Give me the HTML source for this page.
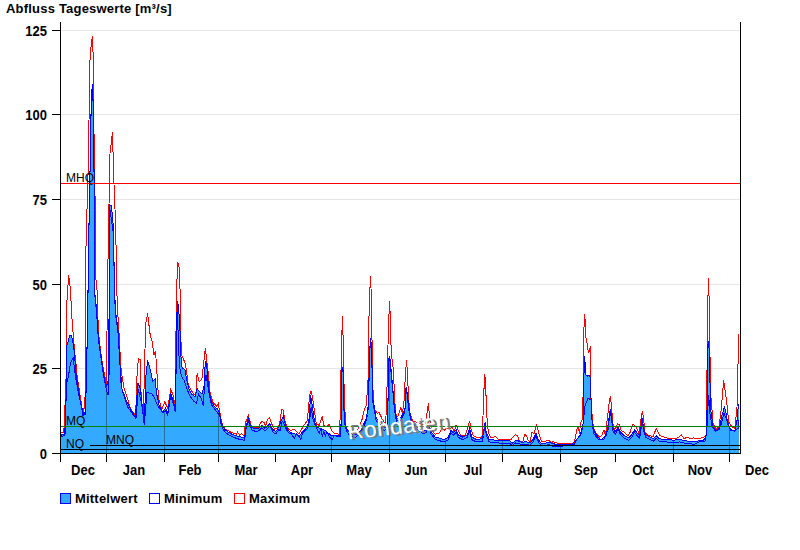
<!DOCTYPE html>
<html><head><meta charset="utf-8"><style>
html,body{margin:0;padding:0;background:#fff;width:800px;height:550px;overflow:hidden}
svg{display:block}
</style></head><body>
<svg width="800" height="550" viewBox="0 0 800 550">
<defs><clipPath id="plot"><rect x="61" y="22" width="679" height="431"/></clipPath>
<clipPath id="fillclip"><polygon points="61,453 61,434.5 63,435 65,434 65.6,418 66.5,380 67,345 70,335 71.4,335 73.7,346 75.2,362.6 76,373 80,400 83,415.5 85.3,412 86.4,380 87.9,300 88.6,243 89.5,200 91.3,97 92.4,84 93.5,110 94.2,190 94.6,291 96.5,309 98.3,336 101.3,358 103.5,373 105,382 106.5,386 108.5,380 109.5,260 110,205 111.5,206 113.6,230 114.4,291 116,315 118.2,331 119.7,358 120.4,373 121.2,386.4 126.4,401.4 134.6,416.3 135.5,416 137.9,382.6 140.4,389 142.8,412 144.5,417 146.1,372.7 147.7,360.5 150.2,369.5 152.6,381 155.1,379.3 156.7,394 159.2,405.5 162.5,412.6 165.5,408 167.7,412.6 170.7,393.2 173.7,402 175.2,409.6 176.2,360 177.2,300.7 178.7,306.7 179.1,315.7 180.1,332 180.8,354.5 182.1,368.2 184.9,369.6 186.9,380.5 189,388.7 191.7,394.1 195.1,396.8 197.1,388.7 199.2,391.4 201.9,394.1 204,386 205.3,361.4 206.7,365.5 208.7,388.7 211.5,402.3 215.6,407.8 217.6,409.1 219.7,413.2 220.7,420.8 223,426.7 225.9,430.5 231.9,434.2 237.9,436.4 242.4,437.2 244.6,437.9 246.1,426 248.3,417.8 249.8,423.7 252,427.5 255.8,429 258.8,428.2 261.8,425.2 264.7,428.2 267,426.7 270,423.7 272.2,428.2 273.7,430.5 276,431.2 279,426.7 281.2,420.8 283.4,416.3 285.7,425.2 287.9,430.5 292.4,433.4 296.1,434.2 299.1,436.4 301.3,433.4 305.8,428.2 308.8,422.3 310.6,395.4 312.5,407.3 314,417.8 315.5,425.2 317.8,427.5 321.5,429 325.2,430.5 330.5,435 335,435 339.4,435.7 340.8,434 341.3,410 341.6,372 342.4,366.6 343.4,372 343.8,405 344.8,422 346.4,428.4 350.2,433.5 355.3,434.8 360.4,431 363.3,425 366,419 367.5,412 368.8,400 369.2,360 370.5,337.6 371.8,350 372.3,385 373,400 374.5,408 375.8,417 380.4,424.5 384,428 386.3,427 387.8,420 388.2,380 388.6,360 389.7,355.8 390.6,364.5 392,380 393.4,395 394.2,405 396.4,418.6 400.9,417.8 403.9,411.8 405,408 405.4,390 406.6,387.2 407.2,394 409,408 411,418.6 412.8,423.7 418.8,428.2 423.3,431.2 426.3,429.7 428.5,420.8 430.7,431 435.2,437 440.5,438.5 444.2,439.5 448,437.5 450.9,430.5 453.2,432.7 456.1,429.7 458.4,435 462.9,437.2 467.3,435 469.6,428.2 471.8,437.2 476.3,439.4 482.3,438.7 483.5,433 484.5,425 485.3,422.5 486.2,432.7 488.3,436.8 489,439.4 495.7,440.2 499,440.5 502,441 506,440.5 510,441 512.5,443 515.5,440.5 518.5,441 522,442.5 526,441.5 530,443 533,439.5 536,433.5 538.5,440 541,443 546,443 549,442 552.5,443.9 560,444.3 574.1,444.3 576.4,440.2 579.3,435.7 581.6,432.7 583.3,422 583.8,380 584.5,356 585.3,366 585.8,375 587.6,376 589,375.4 590.5,378 591.2,405 592,420 592.8,428.2 595.8,434.2 601,440.2 604,437.2 606.2,435.7 608.5,422.3 610.3,408.8 611.5,416.3 613,428.2 615.2,432 618.2,426.7 620.4,432 624.1,435.7 628.6,437.9 631.6,435 634.6,429.7 636.8,432.7 639.8,435.7 642.1,417.8 643.6,428.2 645.8,435 653.3,438.7 656.2,435.7 659.2,438.7 663.7,439.4 666,439.4 673.4,440.2 679.4,439.4 686.1,440.9 694.3,441.7 703.3,440.2 705.8,438 706.8,425 707.3,390 707.8,345 708.4,341 709.2,350 709.8,370 710.3,400 710.9,411.7 713.1,426.6 716.1,431.1 719.1,429.6 722.1,414.7 724.3,407.2 725.8,411.7 728.1,425.1 731,429.6 734.8,431.1 737,420.7 738.5,404.2 739,404.2 739,453"/></clipPath>
</defs>
<line x1="62" y1="368.5" x2="740" y2="368.5" stroke="#e6e6e6" stroke-width="1" shape-rendering="crispEdges"/>
<line x1="62" y1="284.5" x2="740" y2="284.5" stroke="#e6e6e6" stroke-width="1" shape-rendering="crispEdges"/>
<line x1="62" y1="199.5" x2="740" y2="199.5" stroke="#e6e6e6" stroke-width="1" shape-rendering="crispEdges"/>
<line x1="62" y1="114.5" x2="740" y2="114.5" stroke="#e6e6e6" stroke-width="1" shape-rendering="crispEdges"/>
<line x1="62" y1="30.5" x2="740" y2="30.5" stroke="#e6e6e6" stroke-width="1" shape-rendering="crispEdges"/>
<g clip-path="url(#plot)" shape-rendering="crispEdges">
<polygon points="61,453 61,434.5 63,435 65,434 65.6,418 66.5,380 67,345 70,335 71.4,335 73.7,346 75.2,362.6 76,373 80,400 83,415.5 85.3,412 86.4,380 87.9,300 88.6,243 89.5,200 91.3,97 92.4,84 93.5,110 94.2,190 94.6,291 96.5,309 98.3,336 101.3,358 103.5,373 105,382 106.5,386 108.5,380 109.5,260 110,205 111.5,206 113.6,230 114.4,291 116,315 118.2,331 119.7,358 120.4,373 121.2,386.4 126.4,401.4 134.6,416.3 135.5,416 137.9,382.6 140.4,389 142.8,412 144.5,417 146.1,372.7 147.7,360.5 150.2,369.5 152.6,381 155.1,379.3 156.7,394 159.2,405.5 162.5,412.6 165.5,408 167.7,412.6 170.7,393.2 173.7,402 175.2,409.6 176.2,360 177.2,300.7 178.7,306.7 179.1,315.7 180.1,332 180.8,354.5 182.1,368.2 184.9,369.6 186.9,380.5 189,388.7 191.7,394.1 195.1,396.8 197.1,388.7 199.2,391.4 201.9,394.1 204,386 205.3,361.4 206.7,365.5 208.7,388.7 211.5,402.3 215.6,407.8 217.6,409.1 219.7,413.2 220.7,420.8 223,426.7 225.9,430.5 231.9,434.2 237.9,436.4 242.4,437.2 244.6,437.9 246.1,426 248.3,417.8 249.8,423.7 252,427.5 255.8,429 258.8,428.2 261.8,425.2 264.7,428.2 267,426.7 270,423.7 272.2,428.2 273.7,430.5 276,431.2 279,426.7 281.2,420.8 283.4,416.3 285.7,425.2 287.9,430.5 292.4,433.4 296.1,434.2 299.1,436.4 301.3,433.4 305.8,428.2 308.8,422.3 310.6,395.4 312.5,407.3 314,417.8 315.5,425.2 317.8,427.5 321.5,429 325.2,430.5 330.5,435 335,435 339.4,435.7 340.8,434 341.3,410 341.6,372 342.4,366.6 343.4,372 343.8,405 344.8,422 346.4,428.4 350.2,433.5 355.3,434.8 360.4,431 363.3,425 366,419 367.5,412 368.8,400 369.2,360 370.5,337.6 371.8,350 372.3,385 373,400 374.5,408 375.8,417 380.4,424.5 384,428 386.3,427 387.8,420 388.2,380 388.6,360 389.7,355.8 390.6,364.5 392,380 393.4,395 394.2,405 396.4,418.6 400.9,417.8 403.9,411.8 405,408 405.4,390 406.6,387.2 407.2,394 409,408 411,418.6 412.8,423.7 418.8,428.2 423.3,431.2 426.3,429.7 428.5,420.8 430.7,431 435.2,437 440.5,438.5 444.2,439.5 448,437.5 450.9,430.5 453.2,432.7 456.1,429.7 458.4,435 462.9,437.2 467.3,435 469.6,428.2 471.8,437.2 476.3,439.4 482.3,438.7 483.5,433 484.5,425 485.3,422.5 486.2,432.7 488.3,436.8 489,439.4 495.7,440.2 499,440.5 502,441 506,440.5 510,441 512.5,443 515.5,440.5 518.5,441 522,442.5 526,441.5 530,443 533,439.5 536,433.5 538.5,440 541,443 546,443 549,442 552.5,443.9 560,444.3 574.1,444.3 576.4,440.2 579.3,435.7 581.6,432.7 583.3,422 583.8,380 584.5,356 585.3,366 585.8,375 587.6,376 589,375.4 590.5,378 591.2,405 592,420 592.8,428.2 595.8,434.2 601,440.2 604,437.2 606.2,435.7 608.5,422.3 610.3,408.8 611.5,416.3 613,428.2 615.2,432 618.2,426.7 620.4,432 624.1,435.7 628.6,437.9 631.6,435 634.6,429.7 636.8,432.7 639.8,435.7 642.1,417.8 643.6,428.2 645.8,435 653.3,438.7 656.2,435.7 659.2,438.7 663.7,439.4 666,439.4 673.4,440.2 679.4,439.4 686.1,440.9 694.3,441.7 703.3,440.2 705.8,438 706.8,425 707.3,390 707.8,345 708.4,341 709.2,350 709.8,370 710.3,400 710.9,411.7 713.1,426.6 716.1,431.1 719.1,429.6 722.1,414.7 724.3,407.2 725.8,411.7 728.1,425.1 731,429.6 734.8,431.1 737,420.7 738.5,404.2 739,404.2 739,453" fill="#33aaff" stroke="none"/>
<g clip-path="url(#fillclip)">
<line x1="106.5" y1="22" x2="106.5" y2="453" stroke="#1f6ea6" stroke-width="1"/>
<line x1="164.5" y1="22" x2="164.5" y2="453" stroke="#1f6ea6" stroke-width="1"/>
<line x1="218.5" y1="22" x2="218.5" y2="453" stroke="#1f6ea6" stroke-width="1"/>
<line x1="331.5" y1="22" x2="331.5" y2="453" stroke="#1f6ea6" stroke-width="1"/>
<line x1="389.5" y1="22" x2="389.5" y2="453" stroke="#1f6ea6" stroke-width="1"/>
<line x1="445.5" y1="22" x2="445.5" y2="453" stroke="#1f6ea6" stroke-width="1"/>
<line x1="502.5" y1="22" x2="502.5" y2="453" stroke="#1f6ea6" stroke-width="1"/>
<line x1="560.5" y1="22" x2="560.5" y2="453" stroke="#1f6ea6" stroke-width="1"/>
<line x1="673.5" y1="22" x2="673.5" y2="453" stroke="#1f6ea6" stroke-width="1"/>
<line x1="729.5" y1="22" x2="729.5" y2="453" stroke="#1f6ea6" stroke-width="1"/>
</g>
<polyline points="61,432.5 63,433 64,428 64.5,418 66,380 67,300 68.7,275.4 70.2,287 72.2,322 74.4,349 75.9,362.6 76.7,373 80.5,398 82.6,412 83.5,413 85,400 85.6,263 86.4,230 88.2,169 90,60 91.3,43.6 92.4,36 93.8,72 94.2,190 95.5,200 96,280 97.1,291 98.3,330 100.5,351 102.8,366 104.3,373 105.5,380.5 106.5,385 107.3,300 108.7,220 110,153.6 112.4,132.2 114.5,200 115.5,218 116.2,254 117.1,300 118.6,327 119.7,343 120.4,362.6 121.6,373 124,388 127.9,400 130.5,408.7 135.5,415.3 136.3,399 137.1,372.7 138.4,358.8 140.4,359.6 141.2,402.2 143.3,413.6 144.5,372.7 145.5,325 147.6,313.4 148.8,323.8 150.3,335.8 151.8,340 154,355 155.5,351.4 156.2,361 157.6,382.6 158.5,397.7 161.7,409.6 164.7,402 167.7,408 170.7,389.5 173,394.7 175.2,406.6 175.6,366.3 176.4,297.8 177.6,262 178.7,265 179.7,271 180.1,293.3 180.6,332 181.5,354.5 185.5,364.1 188.3,384.6 191,390 193.7,394.1 195.8,395.5 197.1,373.6 199.2,381.8 201.9,379.1 203.3,366.8 205.3,348.4 208,370.9 210.1,392.7 212.8,402.3 216.9,406.4 218.3,403.7 221,418.7 222.2,424.5 225.2,429 230.4,432 236.4,434.2 237.6,432 239.4,435 241.6,433.4 243.9,435.7 245.3,423.7 248.3,414.8 249.8,420.8 251.3,426 254.3,427.5 258,427.5 260.3,423.7 261.8,421.5 264,422.3 265.5,426 267.7,419.3 269.5,417.8 271.5,423.7 274.5,429 277.5,428.2 279.7,423.7 281.6,409.6 283.4,410.3 284.9,420.8 287.2,428.2 290.9,430.5 293.9,429 296.9,432 299.1,434.2 302.1,428.2 305.1,423.7 307.3,420.8 308.8,404.3 310.3,391.7 311.5,391.7 313.3,402.9 314.8,413.3 316.3,424.5 319.3,425.2 322.2,416.3 323.7,425.2 326.7,426.7 329,424.5 332,431.2 334.2,433.4 339.4,434.2 340.2,416.3 341.2,360 342.4,316.4 343.2,340.3 343.6,373 344.7,402.9 345.4,423.7 346.4,431 352.9,431 356.6,432.2 361.7,420.8 364.8,408 366.3,405.8 368,380 369.2,305 370.5,276 371.7,305 372.3,373 373.8,408.8 377.5,413.3 379,412.5 382.2,419 385.8,424.5 386.5,395 387.5,380 388.2,332 389.6,301 390.3,318.2 391.2,352 393.4,370 394.2,388.7 394.9,402.9 396.4,417.8 397.9,416.3 399.4,411.8 400.9,407.3 402.4,413.3 403.9,402.9 405.4,374.5 406.6,360.3 407.6,376 408.4,396 409.9,413.3 412.8,420.8 418,423 424.8,425.2 427,413.3 428.5,402.9 429.3,414.8 431.5,429.7 435.2,434.2 439.7,432.7 442,428.2 444.2,430.5 446.4,428.2 450.2,429 452.4,426.7 453.9,432.7 456.1,425.2 458.4,430.5 460.6,435.7 465.1,435.7 468.1,426.7 469.6,420.8 471.1,429.7 473.3,435.7 477.8,437.9 481.5,437.9 482.1,436 482.3,418.4 483,418 483.2,390.5 484.2,388 484.5,374.5 485.3,379 485.5,395 486.9,396 487,418 487.6,420 488.2,432.7 491.2,437.9 495.5,436.5 498,439 502,440 505,439.5 509,440 511.5,439 513,437 515.5,434.5 517.5,436 519.5,441 523,441 524.5,434.5 526.5,435.5 528,440 530,442 532,432.5 534,434 535.5,428 536.5,425.5 537.5,428 539,434 541.5,441 544,442 546.5,440.5 549.5,441 551.7,442.4 553.2,441.7 557,443.1 574.1,443.1 575.6,435.7 577.1,429 578.6,426.7 579.3,434.2 580.8,422.3 582.6,419 583,400 583.3,343.3 584.6,314.2 585.3,322.4 585.6,337.3 586.5,338.8 587.6,347.8 588.6,353 590.5,346.3 591,400 591.8,412 593.5,428.2 595.8,432.7 599.5,437.2 601.7,435.7 604,429.7 605.5,435.7 607,420.8 609.2,402.9 610.3,396.1 611.5,405.8 612.7,422.3 614.4,429.7 616.7,426.7 617.4,423.7 619.7,425.2 621.2,430.5 624.9,432.7 627.9,435.7 630.1,432.5 632.4,424.5 634.6,425.2 637.6,429.7 639.1,434.2 640.6,420.8 642.5,411 643.6,419.3 645,432.7 648.8,435.7 653.3,436.4 656.2,428.2 657.7,431.2 660,435.7 664.5,437.2 669,438.7 675,438.7 678.7,437.2 681.6,435 683.9,438.7 687.6,437.2 689.9,438.7 693.6,437.9 698.8,438.7 704,437.2 706,435 706.8,420 707.2,329.7 708.4,278.2 709.4,307.3 710.1,364 710.9,396.8 713.1,423.6 716.1,429.6 719.1,426.6 721.3,408.7 723.6,380.4 725.1,390.8 726.6,401.3 728.8,422.1 731.8,426.6 734.8,428.1 737,407.2 738.3,352 738.5,334" fill="none" stroke="#ff0000" stroke-width="1"/>
<polyline points="61,435.5 62,436.5 64.5,435 65,428 66.5,384.5 68.2,377.5 70.6,362.7 73.1,357.8 75.5,377.5 79.6,398.7 82.9,411.8 84,414 85.3,414.5 86.4,382.5 87.9,302.5 88.6,245.5 89.5,202.5 91.3,99.5 92.4,86.5 93.5,112.5 94.2,192.5 94.6,293.5 96.5,311.5 98.3,338.5 101.3,360.5 103.5,375.5 104,378 106.5,390 108,395 109,380 110,210 113.6,235 114.4,295 116,318 118.2,334 119.7,361 122,389.4 127.9,407.3 136,418.5 138.3,389 142,405.5 144.3,425.2 146.9,392.4 151.8,394 154.3,397.3 157.5,405.5 163.3,412.8 165.5,410.5 167.7,415.1 170.7,395.7 173.7,404.5 175.2,412 176.2,365 177.2,305 178,330 179.4,365.5 181.5,376.4 184.2,380.5 186.9,388.7 189.6,395.5 193.7,401 196.5,403.7 198.5,394.1 201.2,398.2 203.3,406.4 204.6,383.2 206,375 208.7,391.4 211.5,405 216.9,411.8 220.3,417.3 220.7,423.3 223,429.2 225.9,433.0 231.9,436.7 237.9,438.9 242.4,439.7 244.6,440.4 246.1,428.5 248.3,420.3 249.8,426.2 252,430.0 255.8,431.5 258.8,430.7 261.8,427.7 264.7,430.7 267,429.2 270,426.2 272.2,430.7 273.7,433.0 276,433.7 279,429.2 280,430.8 282.2,421 284.4,424.3 286.5,429.7 288.7,433 291.5,434 294.2,438.4 296.4,434 299.1,436.3 300.7,439.5 302.4,434 304.5,430.8 307.3,428.6 309.4,422 311.1,406.8 312.7,417.7 314.9,424.3 317.6,430.8 319.3,433 320.9,428.6 322.5,437.3 323.6,430.8 325.3,436.3 326.9,431.9 329.1,436.3 330.7,438.4 332.3,439.5 334,435.2 336.7,436.3 340.5,436.3 340.8,436.5 341.3,412.5 341.6,374.5 342.4,369.1 343.4,374.5 343.8,407.5 344.8,424.5 346.4,430.9 350.2,436.0 355.3,437.3 360.4,433.5 363.3,427.5 366,421.5 367.5,414.5 368.8,402.5 369.2,362.5 370.5,340.1 371.8,352.5 372.3,387.5 373,402.5 374.5,410.5 375.8,419.5 380.4,427.0 384,430.5 386.3,429.5 387.8,422.5 388.2,382.5 388.6,362.5 389.7,358.3 390.6,367.0 392,382.5 393.4,397.5 394.2,407.5 396.4,421.1 400.9,420.3 403.9,414.3 405,410.5 405.4,392.5 406.6,389.7 407.2,396.5 409,410.5 411,421.1 412.8,426.2 418.8,430.7 423.3,433.7 426.3,432.2 428.5,423.3 430.7,433.5 435.2,439.5 440.5,441.0 444.2,442.0 448,440.0 450.9,433.0 453.2,435.2 456.1,432.2 458.4,437.5 462.9,439.7 467.3,437.5 469.6,430.7 471.8,439.7 476.3,441.9 482.3,441.2 483.5,435.5 484.5,427.5 485.3,425.0 486.2,435.2 488.3,439.3 489,441.9 495.7,442.7 499,443.0 502,443.5 506,443.0 510,443.5 512.5,445.5 515.5,443.0 518.5,443.5 522,445.0 526,444.0 530,445.5 533,442.0 536,436.0 538.5,442.5 541,445.5 546,445.5 549,444.5 552.5,446.4 560,446.8 572,444 576,440 580,436 583,424 585,406 588,398 591,400 592,420 594,434 599,440 604,439 608,430 608.5,424.8 610.3,411.3 611.5,418.8 613,430.7 615.2,434.5 618.2,429.2 620.4,434.5 624.1,438.2 628.6,440.4 631.6,437.5 634.6,432.2 636.8,435.2 639.8,438.2 642.1,420.3 643.6,430.7 645.8,437.5 653.3,441.2 656.2,438.2 659.2,441.2 663.7,441.9 666,441.9 673.4,442.7 679.4,441.9 686.1,443.4 694.3,444.2 700,441.4 705,441 706.8,432 707.6,413 708.7,395.5 709.8,413 712,426 715.3,431.5 720.7,426 724,413 727.3,421.7 730.6,430.4 734.9,430.4 738.2,428.2 738.5,420" fill="none" stroke="#0000ff" stroke-width="1"/>
<polyline points="61,434.5 63,435 65,434 65.6,418 66.5,380 67,345 70,335 71.4,335 73.7,346 75.2,362.6 76,373 80,400 83,415.5 85.3,412 86.4,380 87.9,300 88.6,243 89.5,200 91.3,97 92.4,84 93.5,110 94.2,190 94.6,291 96.5,309 98.3,336 101.3,358 103.5,373 105,382 106.5,386 108.5,380 109.5,260 110,205 111.5,206 113.6,230 114.4,291 116,315 118.2,331 119.7,358 120.4,373 121.2,386.4 126.4,401.4 134.6,416.3 135.5,416 137.9,382.6 140.4,389 142.8,412 144.5,417 146.1,372.7 147.7,360.5 150.2,369.5 152.6,381 155.1,379.3 156.7,394 159.2,405.5 162.5,412.6 165.5,408 167.7,412.6 170.7,393.2 173.7,402 175.2,409.6 176.2,360 177.2,300.7 178.7,306.7 179.1,315.7 180.1,332 180.8,354.5 182.1,368.2 184.9,369.6 186.9,380.5 189,388.7 191.7,394.1 195.1,396.8 197.1,388.7 199.2,391.4 201.9,394.1 204,386 205.3,361.4 206.7,365.5 208.7,388.7 211.5,402.3 215.6,407.8 217.6,409.1 219.7,413.2 220.7,420.8 223,426.7 225.9,430.5 231.9,434.2 237.9,436.4 242.4,437.2 244.6,437.9 246.1,426 248.3,417.8 249.8,423.7 252,427.5 255.8,429 258.8,428.2 261.8,425.2 264.7,428.2 267,426.7 270,423.7 272.2,428.2 273.7,430.5 276,431.2 279,426.7 281.2,420.8 283.4,416.3 285.7,425.2 287.9,430.5 292.4,433.4 296.1,434.2 299.1,436.4 301.3,433.4 305.8,428.2 308.8,422.3 310.6,395.4 312.5,407.3 314,417.8 315.5,425.2 317.8,427.5 321.5,429 325.2,430.5 330.5,435 335,435 339.4,435.7 340.8,434 341.3,410 341.6,372 342.4,366.6 343.4,372 343.8,405 344.8,422 346.4,428.4 350.2,433.5 355.3,434.8 360.4,431 363.3,425 366,419 367.5,412 368.8,400 369.2,360 370.5,337.6 371.8,350 372.3,385 373,400 374.5,408 375.8,417 380.4,424.5 384,428 386.3,427 387.8,420 388.2,380 388.6,360 389.7,355.8 390.6,364.5 392,380 393.4,395 394.2,405 396.4,418.6 400.9,417.8 403.9,411.8 405,408 405.4,390 406.6,387.2 407.2,394 409,408 411,418.6 412.8,423.7 418.8,428.2 423.3,431.2 426.3,429.7 428.5,420.8 430.7,431 435.2,437 440.5,438.5 444.2,439.5 448,437.5 450.9,430.5 453.2,432.7 456.1,429.7 458.4,435 462.9,437.2 467.3,435 469.6,428.2 471.8,437.2 476.3,439.4 482.3,438.7 483.5,433 484.5,425 485.3,422.5 486.2,432.7 488.3,436.8 489,439.4 495.7,440.2 499,440.5 502,441 506,440.5 510,441 512.5,443 515.5,440.5 518.5,441 522,442.5 526,441.5 530,443 533,439.5 536,433.5 538.5,440 541,443 546,443 549,442 552.5,443.9 560,444.3 574.1,444.3 576.4,440.2 579.3,435.7 581.6,432.7 583.3,422 583.8,380 584.5,356 585.3,366 585.8,375 587.6,376 589,375.4 590.5,378 591.2,405 592,420 592.8,428.2 595.8,434.2 601,440.2 604,437.2 606.2,435.7 608.5,422.3 610.3,408.8 611.5,416.3 613,428.2 615.2,432 618.2,426.7 620.4,432 624.1,435.7 628.6,437.9 631.6,435 634.6,429.7 636.8,432.7 639.8,435.7 642.1,417.8 643.6,428.2 645.8,435 653.3,438.7 656.2,435.7 659.2,438.7 663.7,439.4 666,439.4 673.4,440.2 679.4,439.4 686.1,440.9 694.3,441.7 703.3,440.2 705.8,438 706.8,425 707.3,390 707.8,345 708.4,341 709.2,350 709.8,370 710.3,400 710.9,411.7 713.1,426.6 716.1,431.1 719.1,429.6 722.1,414.7 724.3,407.2 725.8,411.7 728.1,425.1 731,429.6 734.8,431.1 737,420.7 738.5,404.2" fill="none" stroke="#0000ff" stroke-width="1"/>
</g>
<g shape-rendering="crispEdges" stroke-width="1">
<line x1="61" y1="183.5" x2="740" y2="183.5" stroke="#ff0000"/>
<line x1="61" y1="426.5" x2="740" y2="426.5" stroke="#008000"/>
<line x1="90" y1="445.5" x2="740" y2="445.5" stroke="#000"/>
<line x1="61" y1="449.5" x2="740" y2="449.5" stroke="#000"/>
</g>
<g font-family="Liberation Sans, sans-serif" font-size="12" fill="#000">
<text x="66" y="182">MHQ</text>
<text x="66" y="425">MQ</text>
<text x="66" y="448">NQ</text>
<text x="106" y="444">MNQ</text>
</g>
<g shape-rendering="crispEdges" stroke="#000" stroke-width="1">
<line x1="60.5" y1="22" x2="60.5" y2="462"/>
<line x1="740.5" y1="22" x2="740.5" y2="454"/>
<line x1="52" y1="453.5" x2="741" y2="453.5"/>
<line x1="52" y1="368.5" x2="60" y2="368.5"/>
<line x1="52" y1="284.5" x2="60" y2="284.5"/>
<line x1="52" y1="199.5" x2="60" y2="199.5"/>
<line x1="52" y1="114.5" x2="60" y2="114.5"/>
<line x1="52" y1="30.5" x2="60" y2="30.5"/>
<line x1="60.5" y1="453" x2="60.5" y2="462"/>
<line x1="106.5" y1="453" x2="106.5" y2="462"/>
<line x1="164.5" y1="453" x2="164.5" y2="462"/>
<line x1="218.5" y1="453" x2="218.5" y2="462"/>
<line x1="275.5" y1="453" x2="275.5" y2="462"/>
<line x1="331.5" y1="453" x2="331.5" y2="462"/>
<line x1="389.5" y1="453" x2="389.5" y2="462"/>
<line x1="445.5" y1="453" x2="445.5" y2="462"/>
<line x1="502.5" y1="453" x2="502.5" y2="462"/>
<line x1="560.5" y1="453" x2="560.5" y2="462"/>
<line x1="615.5" y1="453" x2="615.5" y2="462"/>
<line x1="673.5" y1="453" x2="673.5" y2="462"/>
<line x1="729.5" y1="453" x2="729.5" y2="462"/>
</g>
<g font-family="Liberation Sans, sans-serif" font-size="13" font-weight="bold" fill="#000" text-anchor="end">
<text transform="translate(47,458.5) scale(1,1.1)">0</text>
<text transform="translate(47,373.5) scale(1,1.1)">25</text>
<text transform="translate(47,289.5) scale(1,1.1)">50</text>
<text transform="translate(47,204.5) scale(1,1.1)">75</text>
<text transform="translate(47,119.5) scale(1,1.1)">100</text>
<text transform="translate(47,35.5) scale(1,1.1)">125</text>
</g>
<g font-family="Liberation Sans, sans-serif" font-size="13" font-weight="bold" fill="#000" text-anchor="middle">
<text transform="translate(83,475) scale(1,1.1)">Dec</text>
<text transform="translate(134,475) scale(1,1.1)">Jan</text>
<text transform="translate(190,475) scale(1,1.1)">Feb</text>
<text transform="translate(246,475) scale(1,1.1)">Mar</text>
<text transform="translate(302,475) scale(1,1.1)">Apr</text>
<text transform="translate(359,475) scale(1,1.1)">May</text>
<text transform="translate(416,475) scale(1,1.1)">Jun</text>
<text transform="translate(473,475) scale(1,1.1)">Jul</text>
<text transform="translate(530,475) scale(1,1.1)">Aug</text>
<text transform="translate(586,475) scale(1,1.1)">Sep</text>
<text transform="translate(643,475) scale(1,1.1)">Oct</text>
<text transform="translate(700,475) scale(1,1.1)">Nov</text>
<text transform="translate(757,475) scale(1,1.1)">Dec</text>
</g>
<g font-family="Liberation Sans, sans-serif" font-size="22.5" letter-spacing="0.55" transform="translate(349,439.5) rotate(-6.5)">
<text x="2" y="1.5" fill="#7a7a7a">Rohdaten</text>
<text x="-1" y="0" fill="#ffffff">Rohdaten</text>
</g>
<g shape-rendering="crispEdges">
<rect x="60.5" y="493.5" width="10" height="10" fill="#33aaff" stroke="#0000ff"/>
<rect x="149.5" y="493.5" width="10" height="10" fill="#fff" stroke="#0000ff"/>
<rect x="234.5" y="493.5" width="10" height="10" fill="#fff" stroke="#ff0000"/>
</g>
<g font-family="Liberation Sans, sans-serif" font-size="13" font-weight="bold" fill="#000" letter-spacing="0.2">
<text x="75" y="503">Mittelwert</text>
<text x="164" y="503">Minimum</text>
<text x="249" y="503">Maximum</text>
</g>
<text x="6" y="13" font-family="Liberation Sans, sans-serif" font-size="13" font-weight="bold" fill="#000" letter-spacing="0.2">Abfluss Tageswerte [m³/s]</text>
</svg>
</body></html>
